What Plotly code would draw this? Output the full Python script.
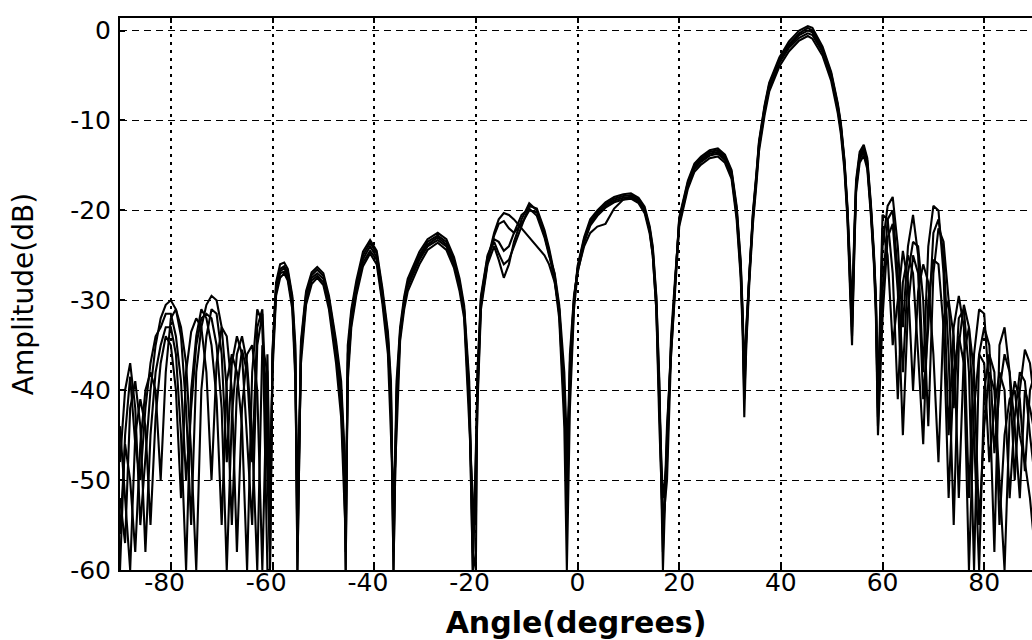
import plotly.graph_objects as go

# ---------------- data ----------------
ANGLE_LEFT = [-90, -89, -88, -87, -86, -85, -84, -83, -82, -81, -80, -79, -78, -77, -76,
              -75, -74, -73, -72, -71, -70, -69, -68, -67, -66, -65, -64, -63, -62, -61]

ANGLE_CENTER = [
    -60.5, -60, -59.3, -58.5, -57.7, -57, -56.1, -55.5, -55.1,
    -54.4, -53.4, -52.3, -51.2, -50, -48.9, -47.5, -46.5, -45.9, -45.6,
    -45.2, -44.5, -43.5, -42.2, -40.8, -39.5, -38.4, -37.3, -36.7, -36.2,
    -35.6, -34.9, -34.1, -33.4, -31.1, -29.5, -27.5, -25.8, -24.3, -23.2, -22.3, -21.3, -20.6,
    -20, -19.7, -19, -17.7, -16.4, -15.5, -14.5, -13.5, -12.5, -11, -9.5, -8, -6.5, -5.6, -4.5, -3.6, -2.6, -2.1,
    -1.5, -0.7, 0, 1.3, 2.5, 3.9, 5.5, 7.2, 9, 10.5, 12, 13.2, 14.2, 14.8, 15.5, 16.1, 16.8,
    17.6, 18.4, 19.2, 20, 21.7, 23, 24.3, 26, 27.6, 29, 30.3, 31.3, 32.1, 32.5, 32.8,
    33.2, 33.8, 34.5, 35.2, 35.7, 36.8, 37.7, 39.7, 41.6, 43.6, 45.3, 46.2, 48.2, 49.9, 51.2, 51.8, 52.5, 53.1, 53.6, 54,
    54.5, 54.8, 55.5, 56.3, 57, 57.7, 58.3, 58.7, 59.1,
]

ANGLE_RIGHT = [60, 61, 62, 63, 64, 65, 66, 67, 68, 69, 70, 71, 72, 73, 74, 75, 76, 77, 78, 79,
               80, 81, 82, 83, 84, 85, 86, 87, 88, 89, 90]

# trace 1
T1_LEFT = [-48, -40, -37, -42, -55, -47, -40, -35, -32, -30.5, -30, -31, -34, -42, -55,
           -38, -33, -30.5, -29.5, -30, -33, -40, -55, -40, -35.5, -38, -48, -33, -31, -45]
T1_CENTER = [
    -60, -36, -28.5, -26.5, -26.2, -26.8, -29.8, -36, -60,
    -35, -29.3, -27.2, -26.6, -27.3, -29.8, -35, -40, -47, -58,
    -36, -31.5, -28.2, -25, -23.6, -24.8, -29, -34, -40, -60,
    -40, -33.5, -30, -28, -25, -23.5, -22.8, -23.5, -25.5, -28, -31, -40, -60,
    -45, -40, -30, -25.5, -22.5, -21, -20.3, -20.5, -21, -22, -23, -24, -25, -26, -28, -31, -40, -55,
    -38, -30, -26.5, -23.2, -21.3, -20.2, -19.3, -18.7, -18.4, -18.3, -18.8, -19.8, -22, -24.3, -29.8, -39.8, -60,
    -45, -35, -28, -21, -16.9, -15, -14.2, -13.5, -13.3, -14, -15.7, -19.8, -26, -32, -39.5,
    -33.5, -27, -20.5, -16, -12.5, -8.5, -6, -3.2, -1.5, -0.3, 0.3, 0, -2, -4.8, -8.3, -10.5, -14.5, -19.9, -26, -32,
    -22, -17, -13.8, -13, -14.5, -19.5, -25, -30, -42,
]
T1_RIGHT = [-24, -19.5, -18.5, -24, -33, -24, -20.5, -25, -38, -24, -19.5, -20, -27, -45, -33,
            -29.5, -33, -52, -36, -31, -31.5, -40, -58, -35, -33, -38, -50, -40, -35.5, -37, -42]

# trace 2
T2_LEFT = [-60, -45, -38.5, -46, -50, -42, -37, -34, -33, -31.5, -31.5, -34, -39, -50, -42,
           -35, -32, -31.5, -32, -35, -42, -60, -43, -36, -34, -37, -45, -60, -35, -38]
T2_CENTER = [
    -55, -37, -29, -27, -26.8, -27.5, -30.5, -38, -52,
    -36, -30, -27.8, -27.3, -28, -30.5, -36, -42, -50, -54,
    -38, -32.5, -29, -25.8, -24.5, -25.5, -29.8, -35, -42, -55,
    -42, -34, -30.5, -28.5, -25.5, -24, -23.3, -24, -26, -28.5, -31.5, -42, -55,
    -50, -42, -31, -26, -24, -25.5, -27.5, -26, -23.5, -21, -19.2, -20, -22.5, -24.5, -27.5, -31.5, -42, -50,
    -36, -29.5, -26.8, -24, -22.5, -21.8, -21.5, -19.8, -18.8, -18.5, -19, -20, -22.3, -25, -31, -42, -52,
    -48, -34, -27.5, -21.5, -17.3, -15.4, -14.6, -13.9, -13.7, -14.4, -16.2, -20.5, -27, -33, -41,
    -34.5, -27.5, -21, -16.5, -13, -9, -6.4, -3.6, -1.9, -0.8, -0.3, -0.5, -2.4, -5.2, -8.8, -11, -15, -20.5, -27, -34,
    -23, -17.5, -14.3, -13.5, -15, -20, -25.5, -31, -44,
]
T2_RIGHT = [-29, -21, -20, -27, -38, -27, -23.5, -24, -30, -44, -27, -22, -23.5, -30, -42,
            -32, -31, -38, -60, -36, -33, -35, -47, -40, -36, -38, -44, -52, -40, -42, -45]

# trace 3
T3_LEFT = [-52, -57, -42, -39, -44, -58, -45, -38, -35, -33, -33, -36, -45, -60, -40,
           -34, -31, -32, -35, -41, -55, -39, -36, -38, -44, -60, -38, -31, -32.5, -50]
T3_CENTER = [
    -58, -35.5, -28, -26, -25.8, -26.5, -29.5, -35, -58,
    -34.5, -29, -26.9, -26.3, -27, -29.5, -34.5, -39, -46, -60,
    -35, -31, -27.8, -24.6, -23.3, -24.5, -28.6, -33.5, -39, -58,
    -39, -33, -29.6, -27.6, -24.6, -23.2, -22.5, -23.2, -25.2, -27.6, -30.6, -39, -58,
    -60, -38, -29.5, -25, -23.2, -23.5, -24.5, -24, -22.5, -20.5, -19.8, -20.6, -23, -25, -27, -30.5, -38, -46,
    -40, -30.5, -26.2, -23, -21, -20, -19.1, -18.5, -18.2, -18.1, -18.6, -19.6, -21.8, -24, -29.5, -39, -58,
    -44, -35.5, -28.3, -20.8, -16.7, -14.8, -14, -13.3, -13.1, -13.8, -15.5, -19.5, -25.6, -31.5, -38,
    -33, -26.6, -20.2, -15.8, -12.3, -8.3, -5.8, -3, -1.2, 0, 0.5, 0.3, -1.8, -4.6, -8.1, -10.3, -14.3, -19.6, -25.6, -31,
    -21.5, -16.6, -13.5, -12.7, -14.2, -19.2, -24.6, -29.6, -41,
]
T3_RIGHT = [-20.5, -21, -27, -41, -28, -25, -27, -36, -46, -30, -25.5, -26, -33, -52, -38,
            -34, -37, -60, -42, -36, -37, -48, -42, -38, -40, -52, -43, -38, -39, -45, -50]

# trace 4
T4_LEFT = [-44, -52, -60, -45, -41, -44, -55, -43, -37, -34, -35, -40, -52, -38, -33.5,
           -32, -33, -38, -50, -37, -33, -34, -40, -58, -42, -36, -35, -40, -60, -36]
T4_CENTER = [
    -52, -38, -29.5, -27.5, -27, -27.8, -31, -39, -55,
    -37, -30.5, -28.2, -27.5, -28.3, -31, -37, -43, -52, -56,
    -39, -33, -29.4, -26.2, -24.8, -26, -30.3, -36, -45, -52,
    -45, -34.5, -31, -29, -26, -24.4, -23.6, -24.4, -26.4, -29, -32, -44, -52,
    -55, -41, -30.5, -25.8, -22.8, -21.5, -21.2, -22, -22.5, -21.5, -20, -20.2, -22.8, -24.8, -27.8, -32, -44, -60,
    -42, -31, -27, -23.6, -21.7, -20.6, -19.7, -19.1, -18.8, -18.7, -19.2, -20.3, -22.6, -25, -31, -44, -55,
    -50, -36, -28.8, -21.8, -17.6, -15.7, -14.9, -14.2, -14, -14.7, -16.5, -21, -27.5, -34, -43,
    -35, -28, -21.5, -17, -13.4, -9.4, -6.8, -4, -2.3, -1.1, -0.6, -0.9, -2.8, -5.6, -9.2, -11.5, -15.5, -21, -28, -35,
    -23.5, -18, -14.7, -13.9, -15.4, -20.5, -26, -32, -45,
]
T4_RIGHT = [-32, -23, -21.5, -29, -45, -31, -25, -27, -41, -33, -22.5, -21, -25, -36, -55,
            -35, -30.5, -33, -45, -60, -40, -36, -38, -55, -45, -41, -40, -45, -48, -52, -58]

# trace 5
T5_LEFT = [-56, -46, -50, -58, -46, -40, -38, -40, -50, -38, -32, -31, -33, -37, -47,
           -60, -40, -34, -31, -31.5, -36, -48, -37, -34, -36, -45, -55, -35, -31.5, -60]
T5_CENTER = [
    -60, -36.5, -28.8, -26.8, -26.4, -27.2, -30.2, -37, -60,
    -35.5, -29.6, -27.5, -27, -27.6, -30.1, -35.5, -41, -48, -60,
    -37, -32, -28.6, -25.4, -24, -25.2, -29.4, -34.5, -41, -60,
    -41, -33.8, -30.2, -28.2, -25.2, -23.8, -23, -23.8, -25.8, -28.3, -31.2, -41, -60,
    -48, -39, -29.8, -25.2, -23.5, -24.8, -26, -25.5, -24, -21.8, -19.5, -19.8, -22.2, -24.2, -27.2, -31, -41, -52,
    -37, -29.8, -26.6, -23.4, -21.5, -20.4, -19.5, -18.9, -18.6, -18.5, -19, -20, -22.2, -24.6, -30.4, -41, -56,
    -46, -35.2, -28.1, -21.2, -17.1, -15.2, -14.4, -13.7, -13.5, -14.2, -15.9, -20.1, -26.4, -32.6, -40,
    -33.8, -27.2, -20.7, -16.2, -12.7, -8.7, -6.2, -3.4, -1.7, -0.5, 0, -0.2, -2.2, -5, -8.5, -10.7, -14.7, -20.2, -26.5, -33,
    -22.5, -17.3, -14, -13.2, -14.8, -19.8, -25.3, -30.5, -43,
]
T5_RIGHT = [-22, -25, -35, -30, -24.5, -28, -40, -29, -26, -28, -36, -48, -32, -30, -34,
            -52, -36, -33, -38, -55, -44, -38, -40, -50, -60, -43, -39, -41, -49, -40, -38]

X_TICKS = [-80, -60, -40, -20, 0, 20, 40, 60, 80]
X_TICK_LABELS = ["-80\u2002", "-60\u2002", "-40\u2002", "-20\u2002", "0", "20", "40", "60", "80"]
Y_TICKS = [0, -10, -20, -30, -40, -50, -60]
Y_TICK_LABELS = ["0", "-10", "-20", "-30", "-40", "-50", "-60"]

X_TITLE = "Angle(degrees)"
Y_TITLE = "Amplitude(dB)"

# ---------------- figure ----------------
angles = ANGLE_LEFT + ANGLE_CENTER + ANGLE_RIGHT
traces = [
    T1_LEFT + T1_CENTER + T1_RIGHT,
    T2_LEFT + T2_CENTER + T2_RIGHT,
    T3_LEFT + T3_CENTER + T3_RIGHT,
    T4_LEFT + T4_CENTER + T4_RIGHT,
    T5_LEFT + T5_CENTER + T5_RIGHT,
]
for i, t in enumerate(traces):
    assert len(t) == len(angles), f"trace {i+1}: {len(t)} vs {len(angles)}"

fig = go.Figure()
for t in traces:
    fig.add_trace(go.Scatter(x=angles, y=t, mode="lines",
                             line=dict(color="black", width=2.1),
                             hoverinfo="skip"))

FONT = "DejaVu Sans"
fig.update_layout(
    width=1032, height=640,
    margin=dict(l=120, r=0, t=18, b=70),
    paper_bgcolor="white", plot_bgcolor="white",
    showlegend=False,
    font=dict(family=FONT, color="black"),
)
fig.update_xaxes(
    range=[-90, 89.4], automargin=False,
    tickmode="array", tickvals=X_TICKS, ticktext=X_TICK_LABELS,
    ticks="inside", ticklen=5, tickwidth=1.5, tickcolor="black",
    tickfont=dict(family=FONT, size=25, color="black"),
    ticklabelstandoff=-11,
    showline=True, linecolor="black", linewidth=2, mirror="ticks",
    showgrid=True, gridcolor="black", gridwidth=1.6, griddash="3px,5px",
    zeroline=False,
    title=dict(text=X_TITLE, standoff=22,
               font=dict(family=FONT, size=30, color="black", weight="bold")),
)
fig.update_yaxes(
    range=[-60, 1.4], automargin=False,
    tickmode="array", tickvals=Y_TICKS, ticktext=Y_TICK_LABELS,
    ticks="inside", ticklen=5, tickwidth=1.5, tickcolor="black",
    tickfont=dict(family=FONT, size=25, color="black"),
    ticklabelstandoff=2,
    showline=True, linecolor="black", linewidth=2, mirror=False,
    showgrid=True, gridcolor="black", gridwidth=1.4, griddash="7px,5px",
    zeroline=False,
    title=dict(text=Y_TITLE, standoff=28,
               font=dict(family=FONT, size=28, color="black")),
)

fig.write_html(
    "out.html",
    config={"displayModeBar": False},
    post_script="document.body.style.margin='0';"
                "document.body.style.overflow='hidden';"
                "document.documentElement.style.overflow='hidden';",
)
